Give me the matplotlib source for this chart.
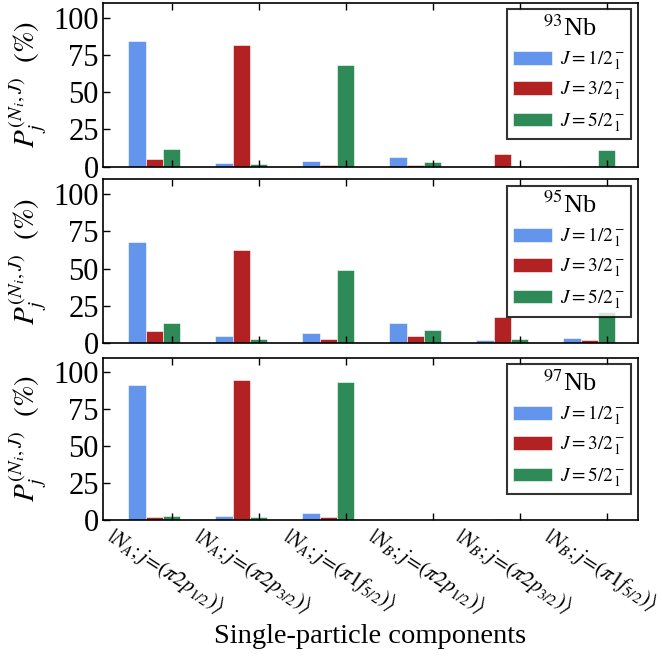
import numpy as np
import matplotlib
matplotlib.use("Agg")
import matplotlib.pyplot as plt
from matplotlib.transforms import ScaledTranslation

plt.rcParams['font.family'] = ['Liberation Serif', 'DejaVu Serif']
plt.rcParams['mathtext.fontset'] = 'stix'

components = [r'$|N_A;j\!=\!(\pi 2p_{1/2})\rangle$',
              r'$|N_A;j\!=\!(\pi 2p_{3/2})\rangle$',
              r'$|N_A;j\!=\!(\pi 1f_{5/2})\rangle$',
              r'$|N_B;j\!=\!(\pi 2p_{1/2})\rangle$',
              r'$|N_B;j\!=\!(\pi 2p_{3/2})\rangle$',
              r'$|N_B;j\!=\!(\pi 1f_{5/2})\rangle$']
series_labels = [r'$J=1/2_1^-$', r'$J=3/2_1^-$', r'$J=5/2_1^-$']
nuclei = [r'$^{93}$Nb', r'$^{95}$Nb', r'$^{97}$Nb']

nb93_j12 = [84.0, 2.2, 3.6, 6.5, 0.3, 0.7]
nb93_j32 = [5.0, 81.4, 1.3, 1.1, 8.7, 0.3]
nb93_j52 = [11.8, 1.6, 68.2, 3.4, 0.7, 11.5]

nb95_j12 = [68.2, 5.2, 7.2, 13.7, 2.2, 3.4]
nb95_j32 = [8.5, 62.6, 3.1, 4.7, 17.7, 2.5]
nb95_j52 = [13.7, 2.9, 49.3, 9.0, 2.9, 20.9]

nb97_j12 = [91.3, 2.5, 4.7, 0.4, 0.0, 0.0]
nb97_j32 = [1.6, 94.8, 1.8, 0.1, 0.4, 0.0]
nb97_j52 = [2.5, 1.8, 93.5, 0.0, 0.0, 0.4]

data = [[nb93_j12, nb93_j32, nb93_j52],
        [nb95_j12, nb95_j32, nb95_j52],
        [nb97_j12, nb97_j32, nb97_j52]]
colors = ['#6495ED', '#B22222', '#2E8B57']

fig = plt.figure(figsize=(6.62, 6.57), dpi=100)
left, right = 0.1556, 0.9637
boxes = [(0.7463, 0.9959), (0.4775, 0.7271), (0.2090, 0.4556)]
x = np.arange(len(components))
w = 0.2
for k, (b, t) in enumerate(boxes):
    ax = fig.add_axes([left, b, right - left, t - b])
    handles = []
    for s in range(3):
        h = ax.bar(x + (s - 1) * w, data[k][s], width=w, color=colors[s],
                   edgecolor='white', linewidth=0.4, label=series_labels[s])
        handles.append(h)
    ax.set_xlim(-0.59, 5.56)
    ax.set_ylim(0, 110)
    ax.set_yticks([0, 25, 50, 75, 100])
    ax.set_xticks(x + w)
    ax.tick_params(axis='both', direction='in', top=True, right=False,
                   length=5, width=1, labelsize=22, pad=3)
    for sp in ax.spines.values():
        sp.set_linewidth(1.2)
    ax.set_ylabel(r'$P_j^{(N_i,J)}\ \ (\%)$', fontsize=21, labelpad=3)
    leg = ax.legend(handles=handles, loc='upper right', title=nuclei[k],
                    fontsize=14, title_fontsize=19, frameon=True,
                    fancybox=False, edgecolor='black', handlelength=2.0,
                    handleheight=0.7, borderaxespad=0.35, labelspacing=0.4,
                    handletextpad=0.4, borderpad=0.3)
    leg.get_frame().set_linewidth(1.5)
    if k < 2:
        ax.set_xticklabels([])
    else:
        labels = ax.set_xticklabels(components, rotation=-33, ha='center',
                                    va='top', fontsize=15.5)
        shift = ScaledTranslation(-6 / 100, 0, fig.dpi_scale_trans)
        for lab in labels:
            lab.set_transform(lab.get_transform() + shift)
        ax.set_xlabel('Single-particle components', fontsize=20.5, labelpad=4)

fig.savefig('out.png', dpi=100)
